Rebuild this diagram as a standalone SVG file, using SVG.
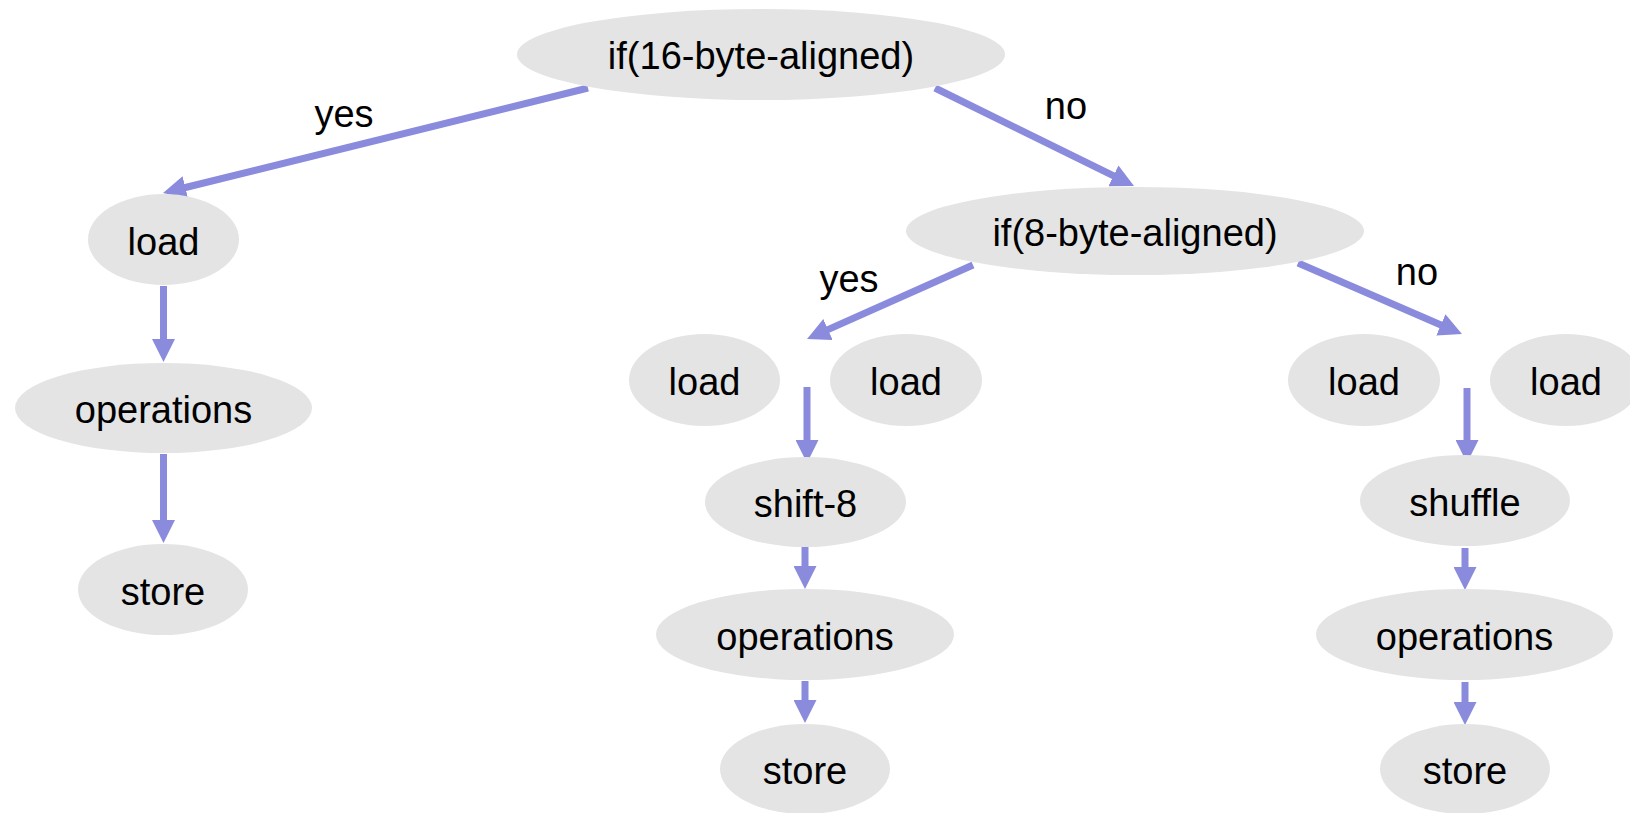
<svg xmlns="http://www.w3.org/2000/svg" width="1630" height="813" viewBox="0 0 1630 813">
  <defs>
    <marker id="head" markerUnits="userSpaceOnUse" markerWidth="23" markerHeight="23" refX="2" refY="11.5" orient="auto">
      <path d="M0,0 L23,11.5 L0,23 Z" fill="#8a8bdc"/>
    </marker>
    <style>
      .node ellipse { fill: #e4e4e4; }
      text { font-family: "Liberation Sans", Arial, sans-serif; font-size: 38px; fill: #000; text-anchor: middle; }
      .edges line { stroke: #8a8bdc; stroke-width: 7; marker-end: url(#head); }
    </style>
  </defs>
  <rect width="1630" height="813" fill="#fff"/>

  <!-- connectors -->
  <g id="edges" class="edges">
    <line x1="588" y1="88" x2="183.4" y2="188"/>
    <line x1="935" y1="88" x2="1115.2" y2="176.7"/>
    <line x1="163.5" y1="286" x2="163.5" y2="341"/>
    <line x1="163.5" y1="454" x2="163.5" y2="522"/>
    <line x1="973" y1="265" x2="826.2" y2="330.4"/>
    <line x1="1298" y1="263" x2="1442.7" y2="325.7"/>
    <line x1="807" y1="387" x2="807" y2="442"/>
    <line x1="805" y1="546" x2="805" y2="568"/>
    <line x1="805" y1="681" x2="805" y2="702"/>
    <line x1="1467" y1="388" x2="1467" y2="442"/>
    <line x1="1465" y1="548" x2="1465" y2="569"/>
    <line x1="1465" y1="682" x2="1465" y2="704"/>
  </g>

  <!-- edge labels -->
  <g id="labels">
    <text x="344" y="127">yes</text>
    <text x="1066" y="119">no</text>
    <text x="849" y="292">yes</text>
    <text x="1417" y="285">no</text>
  </g>

  <!-- nodes -->
  <g id="n-if16" class="node"><ellipse cx="761" cy="54.5" rx="244" ry="45.5"/><text x="761" y="69">if(16-byte-aligned)</text></g>

  <g id="n-load-a" class="node"><ellipse cx="163.5" cy="239.5" rx="75.5" ry="45.5"/><text x="163.5" y="255">load</text></g>
  <g id="n-ops-a" class="node"><ellipse cx="163.5" cy="408" rx="148.5" ry="45"/><text x="163.5" y="423">operations</text></g>
  <g id="n-store-a" class="node"><ellipse cx="163" cy="589.5" rx="85" ry="45.5"/><text x="163" y="604.5">store</text></g>

  <g id="n-if8" class="node"><ellipse cx="1135" cy="231" rx="229" ry="44"/><text x="1135" y="246">if(8-byte-aligned)</text></g>

  <g id="n-load-b1" class="node"><ellipse cx="704.5" cy="380" rx="75.5" ry="46"/><text x="704.5" y="395">load</text></g>
  <g id="n-load-b2" class="node"><ellipse cx="906" cy="380" rx="76" ry="46"/><text x="906" y="395">load</text></g>
  <g id="n-shift" class="node"><ellipse cx="805.5" cy="502" rx="100.5" ry="45"/><text x="805.5" y="517">shift-8</text></g>
  <g id="n-ops-b" class="node"><ellipse cx="805" cy="634.5" rx="149" ry="45.5"/><text x="805" y="649.5">operations</text></g>
  <g id="n-store-b" class="node"><ellipse cx="805" cy="769" rx="85" ry="45"/><text x="805" y="784">store</text></g>

  <g id="n-load-c1" class="node"><ellipse cx="1364" cy="380" rx="76" ry="46"/><text x="1364" y="395">load</text></g>
  <g id="n-load-c2" class="node"><ellipse cx="1566" cy="380" rx="76" ry="46"/><text x="1566" y="395">load</text></g>
  <g id="n-shuffle" class="node"><ellipse cx="1465" cy="500.5" rx="105" ry="45.5"/><text x="1465" y="515.5">shuffle</text></g>
  <g id="n-ops-c" class="node"><ellipse cx="1464.5" cy="634.5" rx="148.5" ry="45.5"/><text x="1464.5" y="649.5">operations</text></g>
  <g id="n-store-c" class="node"><ellipse cx="1465" cy="769" rx="85" ry="45"/><text x="1465" y="784">store</text></g>
</svg>
